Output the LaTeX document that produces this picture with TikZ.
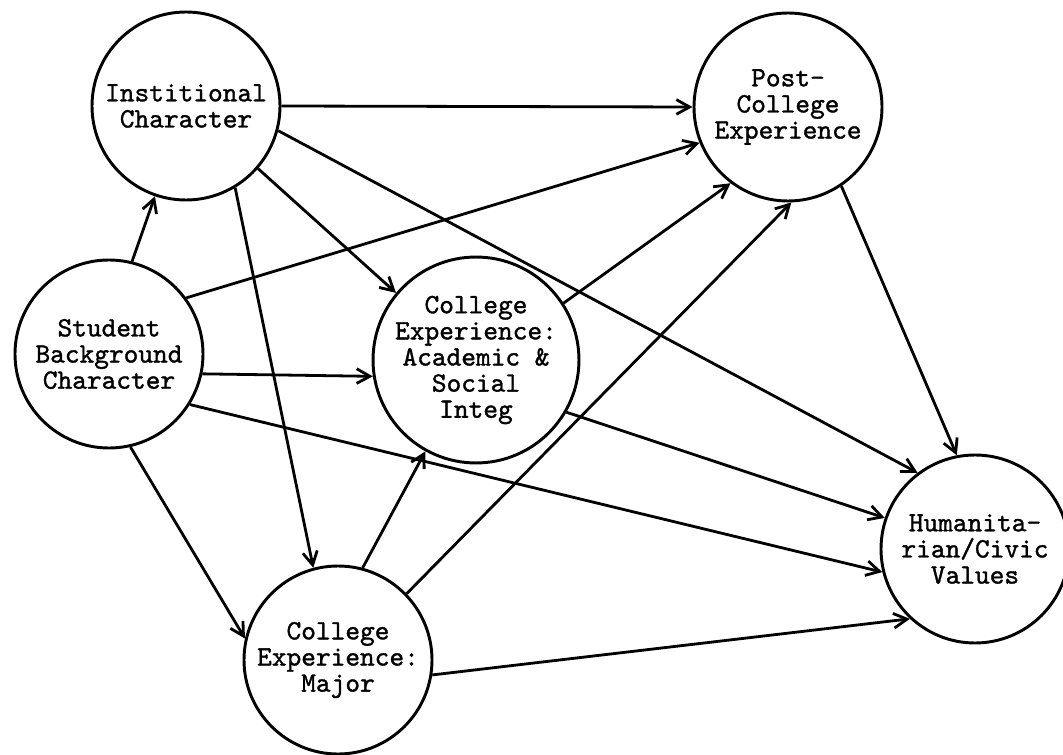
\documentclass[tikz,border=0pt]{standalone}
\usepackage{fontspec}
\newfontfamily\labelfont{lmmono10-regular.otf}[FakeBold=1.2]
\usetikzlibrary{arrows.meta}
\begin{document}
\begin{tikzpicture}[x=0.75pt,y=-0.75pt,
  factor/.style={circle, draw, line width=2.2pt, minimum size=141pt, inner sep=0pt,
    align=center, font=\labelfont\fontsize{21}{19.6}\selectfont},
  link/.style={line width=2.1pt, -{Straight Barb[length=10pt,width=11pt,line width=2.1pt]}}]
\useasboundingbox[fill=white] (0,0) rectangle (1063,755);

% the six factors of the path model
\node[factor] (inst)  at (186,106) {Institional\\Character};
\node[factor] (post)  at (788,107) {Post-\\College\\Experience};
\node[factor] (stu)   at (109,354) {Student\\Background\\Character};
\node[factor] (acad)  at (476,360) {College\\Experience:\\Academic \&\\Social\\Integ};
\node[factor] (hum)   at (975,549) {Humanita-\\rian/Civic\\Values};
\node[factor] (major) at (338,660) {College\\Experience:\\Major};

% causal paths
\draw[link] (stu.76)    -- (inst.251);
\draw[link] (inst.0)    -- (post.180);
\draw[link] (inst.345)  -- (hum.127);
\draw[link] (inst.319)  -- (acad.140);
\draw[link] (inst.301)  -- (major.105);
\draw[link] (stu.36)    -- (post.202);
\draw[link] (stu.348)   -- (acad.189);
\draw[link] (stu.328)   -- (hum.194);
\draw[link] (stu.283)   -- (major.167);
\draw[link] (acad.33)   -- (post.233);
\draw[link] (acad.330)  -- (hum.161);
\draw[link] (major.75)  -- (acad.241);
\draw[link] (major.44)  -- (post.272);
\draw[link] (major.351) -- (hum.227);
\draw[link] (post.304)  -- (hum.101);
\end{tikzpicture}
\end{document}
